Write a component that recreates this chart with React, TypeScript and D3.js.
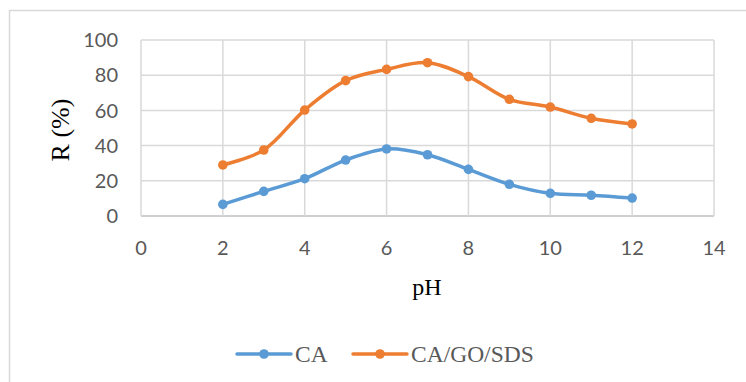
import React from "react";
import * as d3 from "d3";

const phValues = [2, 3, 4, 5, 6, 7, 8, 9, 10, 11, 12];
const caValues = [6.6, 14.0, 21.2, 31.8, 38.1, 34.8, 26.5, 18.0, 12.9, 11.8, 10.2];
const caGoSdsValues = [29.0, 37.5, 60.2, 76.9, 83.3, 87.1, 79.2, 66.3, 61.9, 55.5, 52.3];
const xTicks = [0, 2, 4, 6, 8, 10, 12, 14];
const yTicks = [0, 20, 40, 60, 80, 100];
const seriesNames = ["CA", "CA/GO/SDS"];
const seriesColors = ["#5B9BD5", "#ED7D31"];

const W = 746;
const H = 382;
const plot = { left: 141, right: 714, top: 40, bottom: 216 };

export default function App() {
  const x = d3.scaleLinear().domain([0, 14]).range([plot.left, plot.right]);
  const y = d3.scaleLinear().domain([0, 100]).range([plot.bottom, plot.top]);

  const line = d3
    .line<[number, number]>()
    .x((d) => x(d[0]))
    .y((d) => y(d[1]))
    .curve(d3.curveCatmullRom.alpha(0.5));

  const series = [caValues, caGoSdsValues].map((vals) =>
    phValues.map((p, i) => [p, vals[i]] as [number, number])
  );

  const tickFont = "Lato, 'Open Sans', sans-serif";
  const serif = "'Liberation Serif', 'Times New Roman', serif";
  const textColor = "#595959";

  const legendItems = [
    { x0: 237, x1: 291, tx: 295 },
    { x0: 353, x1: 407, tx: 411 },
  ];

  return (
    <div style={{ position: "absolute", left: 0, top: 0 }}>
      <svg width={W} height={H} style={{ display: "block", background: "#fff" }}>
        {/* chart area frame */}
        <rect x={9.5} y={10.5} width={W + 20} height={H + 20} fill="#fff" stroke="#D9D9D9" strokeWidth={1.5} />

        {/* gridlines */}
        {yTicks.map((t) => (
          <line key={"gy" + t} x1={plot.left} x2={plot.right} y1={y(t)} y2={y(t)}
            stroke={t === 0 ? "#BFBFBF" : "#D9D9D9"} strokeWidth={1.5} />
        ))}
        {xTicks.map((t) => (
          <line key={"gx" + t} x1={x(t)} x2={x(t)} y1={plot.top} y2={plot.bottom}
            stroke="#D9D9D9" strokeWidth={1.5} />
        ))}

        {/* y tick labels */}
        {yTicks.map((t) => (
          <text key={"ly" + t} x={118} y={y(t)} dy="0.36em" textAnchor="end"
            fontFamily={tickFont} fontSize={20} fill={textColor}>{t}</text>
        ))}
        {/* x tick labels */}
        {xTicks.map((t) => (
          <text key={"lx" + t} x={x(t)} y={255} textAnchor="middle"
            fontFamily={tickFont} fontSize={20} fill={textColor}>{t}</text>
        ))}

        {/* series */}
        {series.map((pts, si) => (
          <g key={"s" + si}>
            <path d={line(pts) || ""} fill="none" stroke={seriesColors[si]} strokeWidth={3.5}
              strokeLinejoin="round" strokeLinecap="round" />
            {pts.map((p, i) => (
              <circle key={i} cx={x(p[0])} cy={y(p[1])} r={4.8} fill={seriesColors[si]} />
            ))}
          </g>
        ))}

        {/* axis titles */}
        <text x={427} y={295} textAnchor="middle" fontFamily={serif} fontSize={24} fill="#000">pH</text>
        <text transform="translate(69,130) rotate(-90)" textAnchor="middle" fontFamily={serif}
          fontSize={26} fill="#000">R (%)</text>

        {/* legend */}
        {legendItems.map((it, i) => (
          <g key={"lg" + i}>
            <line x1={it.x0} x2={it.x1} y1={354} y2={354} stroke={seriesColors[i]} strokeWidth={3.5}
              strokeLinecap="round" />
            <circle cx={(it.x0 + it.x1) / 2} cy={354} r={4.8} fill={seriesColors[i]} />
            <text x={it.tx} y={362} fontFamily={serif} fontSize={23.5} fill={textColor}>{seriesNames[i]}</text>
          </g>
        ))}
      </svg>
    </div>
  );
}
